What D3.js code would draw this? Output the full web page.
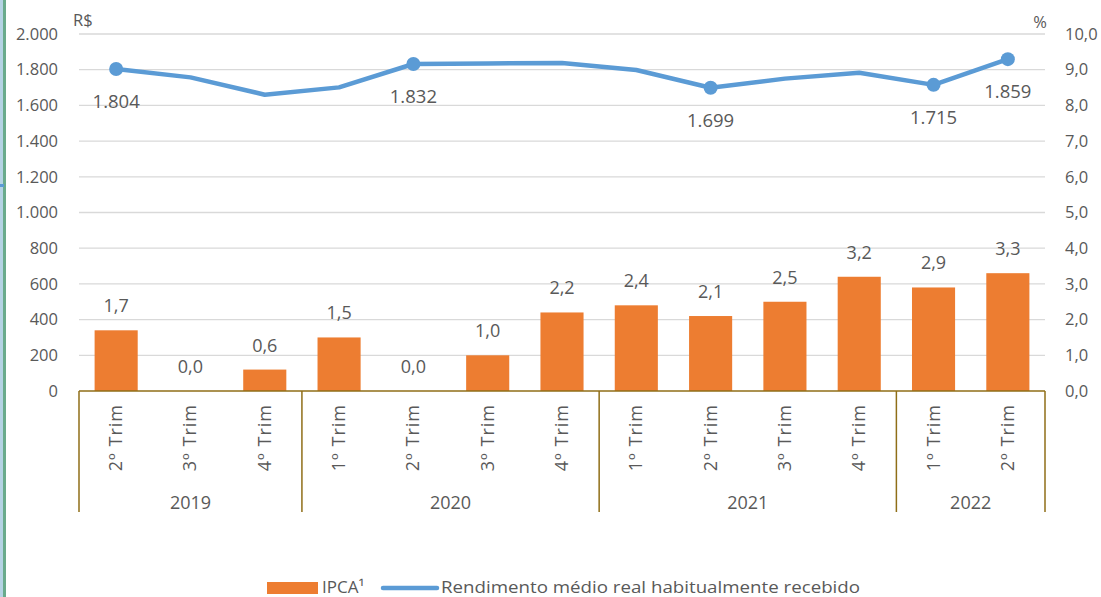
<!DOCTYPE html>
<html>
<head>
<meta charset="utf-8">
<script src="https://cdn.jsdelivr.net/npm/d3@7"></script>
<style>
  body { margin: 0; background: #fff; }
  svg text { font-family: "Open Sans", "Noto Sans", sans-serif; fill: #595959; }
</style>
</head>
<body>
<div id="chart"></div>
<script>
// quarters and the year each group belongs to
var quarters = ["2º Trim", "3º Trim", "4º Trim", "1º Trim", "2º Trim", "3º Trim", "4º Trim",
                "1º Trim", "2º Trim", "3º Trim", "4º Trim", "1º Trim", "2º Trim"];
var years = ["2019", "2019", "2019", "2020", "2020", "2020", "2020",
             "2021", "2021", "2021", "2021", "2022", "2022"];
// IPCA (%) - right axis
var ipca = [1.7, 0.0, 0.6, 1.5, 0.0, 1.0, 2.2, 2.4, 2.1, 2.5, 3.2, 2.9, 3.3];
// Rendimento médio real (R$) - left axis
var rendimento = [1804, 1757, 1660, 1701, 1832, 1835, 1838, 1798, 1699, 1750, 1783, 1715, 1859];
var labelled = [true, false, false, false, true, false, false, false, true, false, false, true, true];
var leftTicks = [0, 200, 400, 600, 800, 1000, 1200, 1400, 1600, 1800, 2000];
var rightTicks = [0, 1, 2, 3, 4, 5, 6, 7, 8, 9, 10];

var W = 1101, H = 597;
var plot = { left: 79, right: 1045, top: 34, bottom: 391 };
var idx = d3.range(quarters.length);

var svg = d3.select("#chart").append("svg")
    .attr("width", W)
    .attr("height", H);

// window frame on the left edge
svg.append("rect").attr("x", 0).attr("y", 0).attr("width", 3).attr("height", H).attr("fill", "#b5d3e4");
svg.append("rect").attr("x", 3).attr("y", 0).attr("width", 3).attr("height", H).attr("fill", "#6aab8c");
svg.append("rect").attr("x", 0).attr("y", 184).attr("width", 4).attr("height", 3).attr("fill", "#5b9bd5");

var x = d3.scaleBand().domain(idx).range([plot.left, plot.right]).paddingInner(0.42).paddingOuter(0.21);
var step = x.step();
var cx = function (i) { return x(i) + x.bandwidth() / 2; };
var yL = d3.scaleLinear().domain([0, 2000]).range([plot.bottom, plot.top]);
var yR = d3.scaleLinear().domain([0, 10]).range([plot.bottom, plot.top]);

var fmtL = function (v) { return d3.format(",")(v).replace(/,/g, "."); };
var fmtR = function (v) { return d3.format(".1f")(v).replace(".", ","); };

// gridlines
svg.append("g").selectAll("line")
    .data(leftTicks.slice(1))
    .enter().append("line")
    .attr("x1", plot.left).attr("x2", plot.right)
    .attr("y1", d => yL(d)).attr("y2", d => yL(d))
    .attr("stroke", "#d9d9d9").attr("stroke-width", 1.3);

// left axis
var leftAxis = svg.append("g")
    .attr("transform", "translate(" + (plot.left - 21) + ",0)")
    .call(d3.axisLeft(yL).tickValues(leftTicks).tickFormat(fmtL).tickSize(0).tickPadding(0));
leftAxis.select(".domain").remove();
leftAxis.selectAll("text").style("font-size", "16.5px").attr("fill", "#595959");

// right axis
var rightAxis = svg.append("g")
    .attr("transform", "translate(" + (plot.right + 20) + ",0)")
    .call(d3.axisRight(yR).tickValues(rightTicks).tickFormat(fmtR).tickSize(0).tickPadding(0));
rightAxis.select(".domain").remove();
rightAxis.selectAll("text").style("font-size", "16.5px").attr("fill", "#595959");

svg.append("text").attr("x", 73).attr("y", 26).style("font-size", "16.5px").text("R$");
svg.append("text").attr("x", 1040).attr("y", 28).attr("text-anchor", "middle").style("font-size", "16.5px").text("%");

// bars
svg.append("g").selectAll("rect")
    .data(idx)
    .enter().append("rect")
    .attr("x", d => x(d))
    .attr("y", d => yR(ipca[d]))
    .attr("width", x.bandwidth())
    .attr("height", d => plot.bottom - yR(ipca[d]))
    .attr("fill", "#ed7d31");

svg.append("g").selectAll("text")
    .data(idx)
    .enter().append("text")
    .attr("x", d => cx(d))
    .attr("y", d => yR(ipca[d]) - 18)
    .attr("text-anchor", "middle")
    .style("font-size", "18px")
    .text(d => fmtR(ipca[d]));

// category axis (multi-level)
var axisColor = "#8f6e17";
var axisG = svg.append("g");
axisG.append("line")
    .attr("x1", plot.left).attr("x2", plot.right)
    .attr("y1", plot.bottom).attr("y2", plot.bottom)
    .attr("stroke", axisColor).attr("stroke-width", 1.5);

var yearNames = Array.from(new Set(years));
var groups = yearNames.map(function (yr) {
    var members = idx.filter(i => years[i] === yr);
    return { year: yr, first: members[0], last: members[members.length - 1] };
});
var bounds = [plot.left].concat(groups.map(g => x(g.last) + x.bandwidth() + step * 0.21));
bounds[bounds.length - 1] = plot.right;
axisG.selectAll(".sep")
    .data(bounds)
    .enter().append("line")
    .attr("x1", d => d).attr("x2", d => d)
    .attr("y1", plot.bottom).attr("y2", 512)
    .attr("stroke", axisColor).attr("stroke-width", 1.5);

axisG.selectAll(".q")
    .data(idx)
    .enter().append("text")
    .attr("transform", d => "translate(" + (cx(d) + 6) + ",404) rotate(-90)")
    .attr("text-anchor", "end")
    .style("font-size", "18px")
    .style("letter-spacing", "1px")
    .text(d => quarters[d]);

axisG.selectAll(".yr")
    .data(groups)
    .enter().append("text")
    .attr("x", g => (cx(g.first) + cx(g.last)) / 2)
    .attr("y", 509)
    .attr("text-anchor", "middle")
    .style("font-size", "18px")
    .text(g => g.year);

// line
var line = d3.line().x(d => cx(d)).y(d => yL(rendimento[d]));
svg.append("path")
    .datum(idx)
    .attr("d", line)
    .attr("fill", "none")
    .attr("stroke", "#5b9bd5")
    .attr("stroke-width", 4.5)
    .attr("stroke-linejoin", "round");

var marked = idx.filter(i => labelled[i]);
svg.append("g").selectAll("circle")
    .data(marked)
    .enter().append("circle")
    .attr("cx", d => cx(d))
    .attr("cy", d => yL(rendimento[d]))
    .attr("r", 7)
    .attr("fill", "#5b9bd5");

svg.append("g").selectAll("text")
    .data(marked)
    .enter().append("text")
    .attr("x", d => cx(d))
    .attr("y", d => yL(rendimento[d]) + 39)
    .attr("text-anchor", "middle")
    .style("font-size", "18.5px")
    .text(d => fmtL(rendimento[d]));

// legend
var lg = svg.append("g");
lg.append("rect").attr("x", 267).attr("y", 582).attr("width", 51).attr("height", 12).attr("fill", "#ed7d31");
lg.append("text").attr("x", 322).attr("y", 593).style("font-size", "17px").text("IPCA¹");
lg.append("line").attr("x1", 383).attr("x2", 437).attr("y1", 588).attr("y2", 588)
    .attr("stroke", "#5b9bd5").attr("stroke-width", 4.5).attr("stroke-linecap", "round");
lg.append("text").attr("x", 441).attr("y", 593).style("font-size", "17px")
    .attr("textLength", 419).attr("lengthAdjust", "spacingAndGlyphs")
    .text("Rendimento médio real habitualmente recebido");
</script>
</body>
</html>
